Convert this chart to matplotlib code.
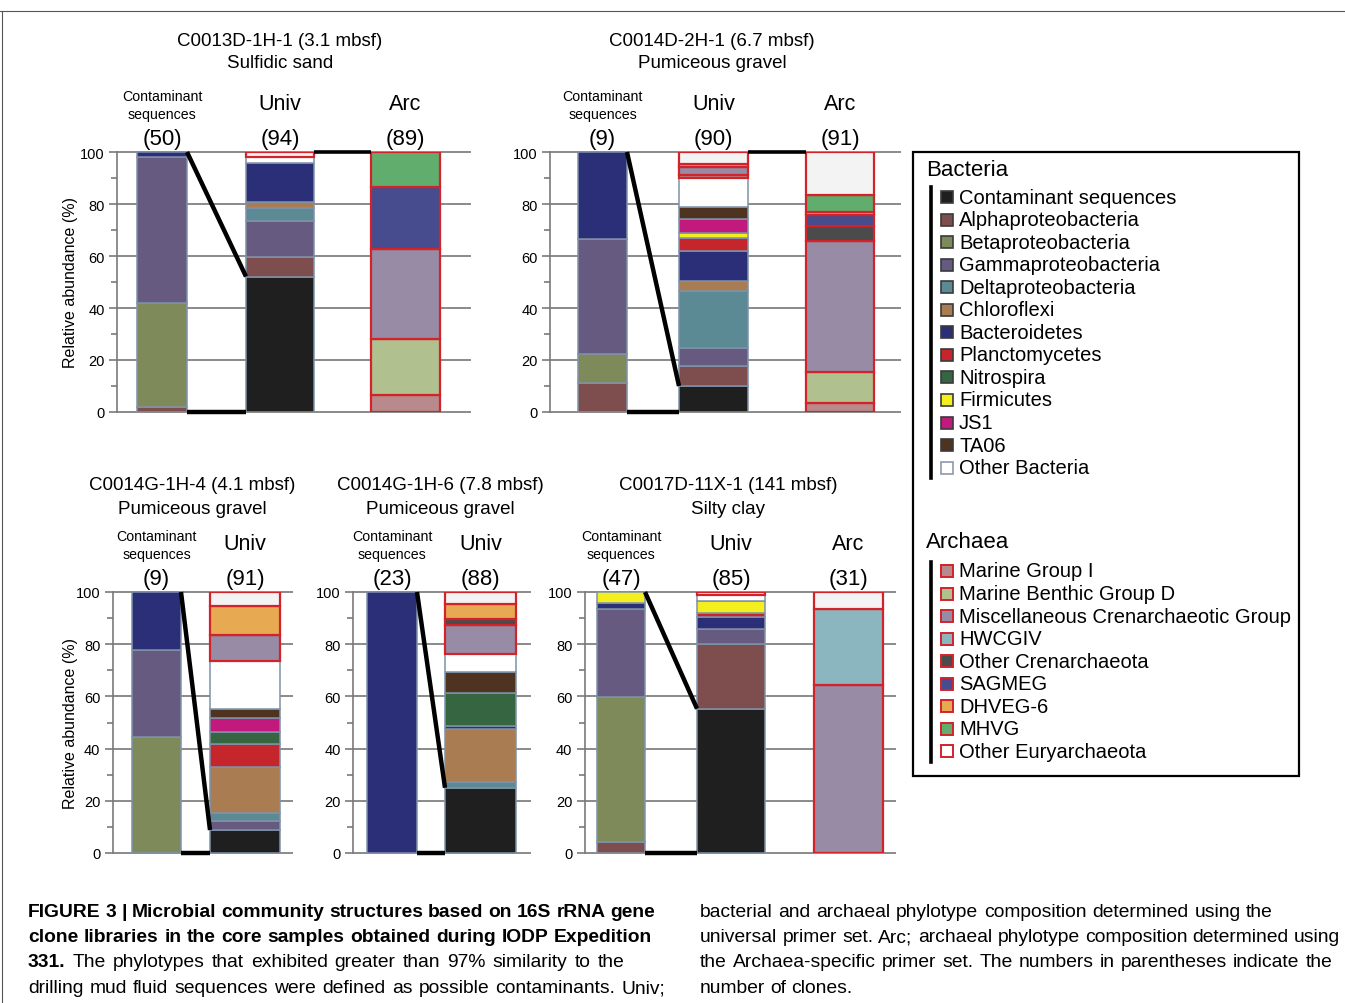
import matplotlib
matplotlib.use('Agg')
import matplotlib.pyplot as plt
from matplotlib.patches import Rectangle
from matplotlib.ticker import MultipleLocator
from matplotlib import font_manager

plt.rcParams['font.family'] = ['Liberation Sans', 'DejaVu Sans']

# ---------------- data ----------------
bact_names = ['Contaminant sequences', 'Alphaproteobacteria', 'Betaproteobacteria',
              'Gammaproteobacteria', 'Deltaproteobacteria', 'Chloroflexi', 'Bacteroidetes',
              'Planctomycetes', 'Nitrospira', 'Firmicutes', 'JS1', 'TA06', 'Other Bacteria']
arch_names = ['Marine Group I', 'Marine Benthic Group D', 'Miscellaneous Crenarchaeotic Group',
              'HWCGIV', 'Other Crenarchaeota', 'SAGMEG', 'DHVEG-6', 'MHVG', 'Other Euryarchaeota']
bact_colors = ['#1f1f1f', '#7e4e4f', '#7f8a5b', '#665a80', '#5b8994', '#a97c52', '#2b2f77',
               '#c4262c', '#366641', '#f4ee1f', '#c2197c', '#4e3420', '#ffffff']
arch_colors = ['#b98a8c', '#b1c08f', '#978ba6', '#8bb5bf', '#4b4b4b', '#464c8d', '#e7aa52',
               '#61ad6d', '#f3f3f3']

# values in % ; order = bact_names + arch_names
p1_contam = [0, 2, 40, 56, 0, 0, 2, 0, 0, 0, 0, 0, 0,   0, 0, 0, 0, 0, 0, 0, 0, 0]
p1_univ   = [52.1, 7.4, 0, 13.8, 5.3, 2.1, 15.1, 0, 0, 0, 0, 0, 2.1,   0, 0, 0, 0, 0, 0, 0, 0, 2.1]
p1_arc    = [0, 0, 0, 0, 0, 0, 0, 0, 0, 0, 0, 0, 0,   6.7, 21.3, 34.8, 0, 0, 23.6, 0, 13.6, 0]

p2_contam = [0, 11.1, 11.1, 44.5, 0, 0, 33.3, 0, 0, 0, 0, 0, 0,   0, 0, 0, 0, 0, 0, 0, 0, 0]
p2_univ   = [10.0, 7.6, 0, 6.9, 22.2, 3.6, 11.7, 4.8, 0, 2.1, 5.5, 4.4, 11.2,   1.1, 0, 3.3, 0, 0, 0, 1.1, 0, 4.5]
p2_arc    = [0, 0, 0, 0, 0, 0, 0, 0, 0, 0, 0, 0, 0,   3.3, 12.1, 50.5, 0, 5.5, 4.4, 1.1, 6.6, 16.5]

p3_contam = [0, 0, 44.4, 33.4, 0, 0, 22.2, 0, 0, 0, 0, 0, 0,   0, 0, 0, 0, 0, 0, 0, 0, 0]
p3_univ   = [8.8, 0, 0, 3.3, 3.3, 17.6, 0, 8.8, 4.4, 0, 5.5, 3.3, 18.7,   0, 0, 9.9, 0, 0, 0, 11.0, 0, 5.4]

p4_contam = [0, 0, 0, 0, 0, 0, 100, 0, 0, 0, 0, 0, 0,   0, 0, 0, 0, 0, 0, 0, 0, 0]
p4_univ   = [25.0, 0, 0, 0, 2.3, 20.4, 1.1, 0, 12.5, 0, 0, 8.0, 6.8,   0, 0, 11.4, 0, 2.3, 0, 5.7, 0, 4.5]

p5_contam = [0, 4.3, 55.3, 34.0, 0, 0, 2.1, 0, 0, 4.3, 0, 0, 0,   0, 0, 0, 0, 0, 0, 0, 0, 0]
p5_univ   = [55.3, 24.7, 0, 5.9, 0, 0, 4.7, 1.2, 0, 4.7, 0, 0, 2.4,   0, 0, 0, 0, 0, 0, 0, 0, 1.1]
p5_arc    = [0, 0, 0, 0, 0, 0, 0, 0, 0, 0, 0, 0, 0,   0, 0, 64.5, 29.0, 0, 0, 0, 0, 6.5]

clone_counts = {'p1': [50, 94, 89], 'p2': [9, 90, 91], 'p3': [9, 91], 'p4': [23, 88], 'p5': [47, 85, 31]}
panel_titles = {'p1': ('C0013D-1H-1 (3.1 mbsf)', 'Sulfidic sand'),
                'p2': ('C0014D-2H-1 (6.7 mbsf)', 'Pumiceous gravel'),
                'p3': ('C0014G-1H-4 (4.1 mbsf)', 'Pumiceous gravel'),
                'p4': ('C0014G-1H-6 (7.8 mbsf)', 'Pumiceous gravel'),
                'p5': ('C0017D-11X-1 (141 mbsf)', 'Silty clay')}
bar_kinds = ['Contaminant\nsequences', 'Univ', 'Arc']
yticks = [0, 20, 40, 60, 80, 100]

caption_left = [[('FIGURE 3 | Microbial community structures based on 16S rRNA gene', 'bold')],
                [('clone libraries in the core samples obtained during IODP Expedition', 'bold')],
                [('331.', 'bold'), ('The phylotypes that exhibited greater than 97% similarity to the', 'normal')],
                [('drilling mud fluid sequences were defined as possible contaminants. Univ;', 'normal')]]
caption_right = [[('bacterial and archaeal phylotype composition determined using the', 'normal')],
                 [('universal primer set. Arc; archaeal phylotype composition determined using', 'normal')],
                 [('the Archaea-specific primer set. The numbers in parentheses indicate the', 'normal')],
                 [('number of clones.', 'normal')]]

# ---------------- layout ----------------
W, H = 1345, 1004
fig = plt.figure(figsize=(W / 100, H / 100), dpi=100)
fig.patch.set_facecolor('white')

ov = fig.add_axes([0, 0, 1, 1])
ov.set_xlim(0, W)
ov.set_ylim(H, 0)
ov.axis('off')

all_colors = bact_colors + arch_colors
n_bact = len(bact_names)
GRID = '#8a8a8a'

layout = {
    'p1': dict(box=(117, 470, 153, 413), cx=[162, 280, 405.5], w=[50, 68, 69], tx=280, ty=(41, 64), ylabel=True, arcline=True),
    'p2': dict(box=(550, 900, 153, 413), cx=[602.5, 713.5, 840], w=[49, 69, 68], tx=712, ty=(41, 64), ylabel=False, arcline=True),
    'p3': dict(box=(113, 292, 593, 854), cx=[156.5, 245], w=[49, 70], tx=192, ty=(486, 509), ylabel=True, arcline=False),
    'p4': dict(box=(353, 530, 593, 854), cx=[392, 480.5], w=[50, 71], tx=440, ty=(486, 509), ylabel=False, arcline=False),
    'p5': dict(box=(585, 895, 593, 854), cx=[621, 731, 848.5], w=[48, 68, 69], tx=728, ty=(486, 509), ylabel=False, arcline=False),
}
bars = {'p1': [p1_contam, p1_univ, p1_arc], 'p2': [p2_contam, p2_univ, p2_arc],
        'p3': [p3_contam, p3_univ], 'p4': [p4_contam, p4_univ], 'p5': [p5_contam, p5_univ, p5_arc]}


def draw_stack(ax, cx, w, vals):
    bottom = 0.0
    for i, v in enumerate(vals):
        if v <= 0:
            continue
        if i < n_bact:
            ec, lw = '#7f92a8', 1.1
        else:
            ec, lw = '#d2232a', 1.6
        ax.bar(cx, v, width=w, bottom=bottom, color=all_colors[i], edgecolor=ec,
               linewidth=lw, zorder=2)
        bottom += v


for key, L in layout.items():
    x0, x1, yt, yb = L['box']
    ax = fig.add_axes([x0 / W, 1 - yb / H, (x1 - x0) / W, (yb - yt) / H])
    ax.set_xlim(x0, x1)
    ax.set_ylim(0, 100)
    ax.patch.set_alpha(0)
    for s in ['top', 'right', 'bottom']:
        ax.spines[s].set_visible(False)
    ax.spines['left'].set_color('#7a7a7a')
    ax.spines['left'].set_linewidth(1.2)
    ax.set_xticks([])
    ax.set_yticks(yticks)
    ax.yaxis.set_minor_locator(MultipleLocator(10))
    ax.tick_params(axis='y', which='major', length=6, width=1.2, color='#7a7a7a',
                   labelsize=10.5, pad=3)
    ax.tick_params(axis='y', which='minor', length=4, width=1.2, color='#7a7a7a')
    for v in yticks:
        ax.axhline(v, color=GRID, lw=1.4, zorder=0.5, clip_on=False)

    series = bars[key]
    for j, vals in enumerate(series):
        draw_stack(ax, L['cx'][j], L['w'][j], vals)

    c_right = L['cx'][0] + L['w'][0] / 2
    u_left = L['cx'][1] - L['w'][1] / 2
    ctop = sum(series[0])
    ax.plot([c_right, u_left], [ctop, series[1][0]], color='black', lw=3.2,
            solid_capstyle='butt', zorder=5, clip_on=False)
    ax.plot([c_right, u_left], [0, 0], color='black', lw=3.2, solid_capstyle='butt',
            zorder=5, clip_on=False)
    if L['arcline']:
        u_right = L['cx'][1] + L['w'][1] / 2
        a_left = L['cx'][2] - L['w'][2] / 2
        ax.plot([u_right, a_left], [100, 100], color='black', lw=2.6,
                solid_capstyle='butt', zorder=5, clip_on=False)

    t1, t2 = panel_titles[key]
    ov.text(L['tx'], L['ty'][0], t1, ha='center', va='center', fontsize=13.5)
    ov.text(L['tx'], L['ty'][1], t2, ha='center', va='center', fontsize=13.5)
    for j in range(len(series)):
        cx = L['cx'][j]
        if j == 0:
            ov.text(cx, yt - 56, 'Contaminant', ha='center', va='center', fontsize=10.2)
            ov.text(cx, yt - 38, 'sequences', ha='center', va='center', fontsize=10.2)
        else:
            ov.text(cx, yt - 48, bar_kinds[j], ha='center', va='center', fontsize=15.5)
        ov.text(cx, yt - 13, '(%d)' % clone_counts[key][j], ha='center', va='center',
                fontsize=16)
    if L['ylabel']:
        ov.text(70, (yt + yb) / 2, 'Relative abundance (%)', rotation=90, ha='center',
                va='center', fontsize=11.5)

# ---------------- legend ----------------
ov.add_patch(Rectangle((913, 153), 386, 624, fill=False, edgecolor='black', lw=1.6))
ov.text(926, 170, 'Bacteria', fontsize=16, va='center', ha='left')
ov.text(926, 543, 'Archaea', fontsize=16, va='center', ha='left')
step = 22.55
ov.plot([931, 931], [188, 188 + step * (len(bact_names) - 1) + 20], color='black', lw=2.6)
ov.plot([931, 931], [563, 563 + step * (len(arch_names) - 1) + 20], color='black', lw=2.6)
for i, name in enumerate(bact_names):
    y = 198 + i * step
    ec = '#8c9bb0' if name == 'Other Bacteria' else '#3a3a3a'
    ov.add_patch(Rectangle((941, y - 6), 12, 12, facecolor=bact_colors[i], edgecolor=ec, lw=1.2))
    ov.text(959, y, name, fontsize=14.5, va='center', ha='left')
for i, name in enumerate(arch_names):
    y = 572 + i * step
    fc = 'white' if name == 'Other Euryarchaeota' else arch_colors[i]
    ov.add_patch(Rectangle((941, y - 6), 12, 12, facecolor=fc, edgecolor='#d2232a', lw=1.4))
    ov.text(959, y, name, fontsize=14.5, va='center', ha='left')

# page frame lines
ov.plot([0, W], [12, 12], color='#555555', lw=0.8)
ov.plot([1.5, 1.5], [12, H], color='#555555', lw=0.8)

# ---------------- caption (justified) ----------------
renderer = fig.canvas.get_renderer()
try:
    font_manager.findfont(font_manager.FontProperties(family='Liberation Sans Narrow'),
                          fallback_to_default=False)
    cap_family = ['Liberation Sans Narrow', 'Liberation Sans']
except Exception:
    cap_family = ['Liberation Sans', 'DejaVu Sans']


def split_words(tokens):
    words = []
    for txt, wt in tokens:
        for w_ in txt.split(' '):
            words.append((w_, wt))
    return words


def measure(words, fs):
    out = []
    for w_, wt in words:
        a = ov.text(0, 0, w_, fontsize=fs, fontweight=wt, family=cap_family)
        out.append(a.get_window_extent(renderer=renderer).width)
        a.remove()
    return out


cap_y = [913, 938, 963, 989]
left_ends = [655, 652, 624, 665]
right_ends = [1273, 1340, 1332, None]
specs = ([(t, 28, e, y) for t, e, y in zip(caption_left, left_ends, cap_y)] +
         [(t, 700, e, y) for t, e, y in zip(caption_right, right_ends, cap_y)])

# common font size: largest that lets every justified line keep a normal word gap
base = 10.0
fs_cap = 30.0
for tokens, xs, xe, y in specs:
    if xe is None:
        continue
    words = split_words(tokens)
    wsum = sum(measure(words, base))
    sp = base * 100 / 72 * 0.25
    need = wsum + sp * (len(words) - 1)
    fs_cap = min(fs_cap, base * (xe - xs) / need)

for tokens, xs, xe, y in specs:
    words = split_words(tokens)
    widths = measure(words, fs_cap)
    sp = fs_cap * 100 / 72 * 0.25
    gap = sp if xe is None else (xe - xs - sum(widths)) / max(len(words) - 1, 1)
    x = xs
    for (w_, wt), wd in zip(words, widths):
        ov.text(x, y, w_, fontsize=fs_cap, fontweight=wt, family=cap_family,
                va='center', ha='left')
        x += wd + gap

fig.savefig('out.png', dpi=100)
